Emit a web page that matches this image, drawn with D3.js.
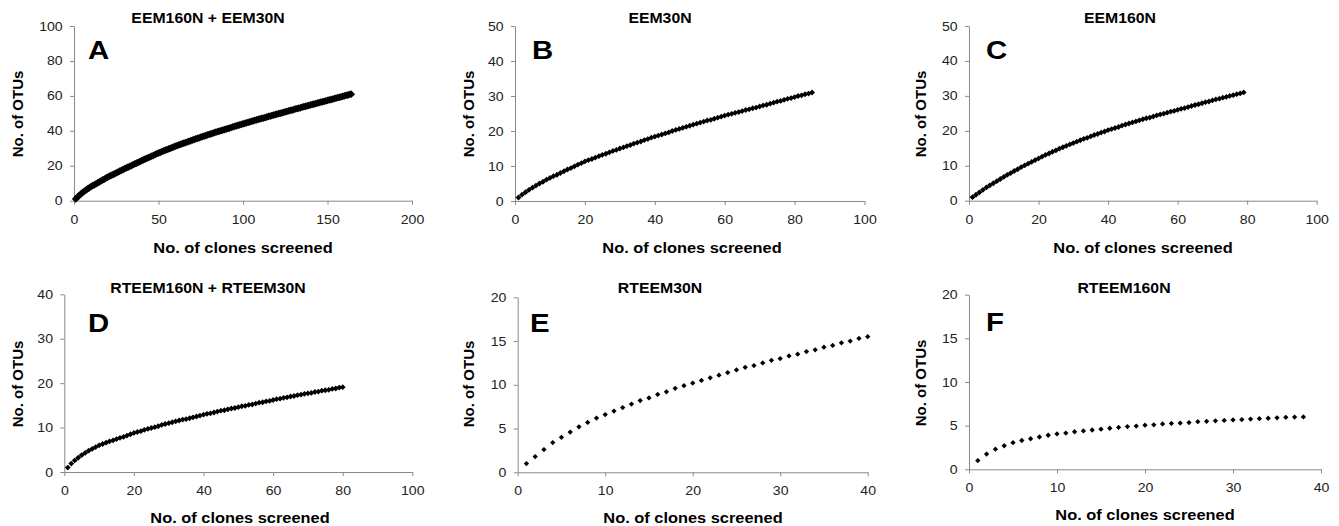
<!DOCTYPE html>
<html>
<head>
<meta charset="utf-8">
<script src="https://cdn.jsdelivr.net/npm/d3@7"></script>
<style>
  body { margin: 0; background: #fff; }
  svg { display: block; font-family: "Liberation Sans", Arial, sans-serif; }
  .domain { stroke: #8a8a8a; }
  .tick line { stroke: #8a8a8a; }
  .tick text { fill: #222; font-size: 12.5px; }
</style>
</head>
<body>
<div id="chart"></div>
<script>
var svgWidth = 1339;
var svgHeight = 526;

// panel titles and letters
var panelTitles = ["EEM160N + EEM30N", "EEM30N", "EEM160N", "RTEEM160N + RTEEM30N", "RTEEM30N", "RTEEM160N"];
var panelLetters = ["A", "B", "C", "D", "E", "F"];

// axis tick values
var xTicks = [
    [0, 50, 100, 150, 200],
    [0, 20, 40, 60, 80, 100],
    [0, 20, 40, 60, 80, 100],
    [0, 20, 40, 60, 80, 100],
    [0, 10, 20, 30, 40],
    [0, 10, 20, 30, 40]
];
var yTicks = [
    [0, 20, 40, 60, 80, 100],
    [0, 10, 20, 30, 40, 50],
    [0, 10, 20, 30, 40, 50],
    [0, 10, 20, 30, 40],
    [0, 5, 10, 15, 20],
    [0, 5, 10, 15, 20]
];

// No. of OTUs for clone 1, 2, 3 ...
var otusA = [
    1.0, 2.0, 2.9, 3.8, 4.6, 5.3, 6.0, 6.7, 7.4, 8.0,
    8.6, 9.1, 9.7, 10.2, 10.8, 11.3, 11.9, 12.4, 13.0, 13.5,
    14.0, 14.5, 14.9, 15.4, 15.9, 16.4, 16.9, 17.3, 17.8, 18.3,
    18.8, 19.2, 19.7, 20.1, 20.6, 21.1, 21.5, 22.0, 22.4, 22.9,
    23.3, 23.8, 24.2, 24.7, 25.1, 25.5, 26.0, 26.4, 26.9, 27.3,
    27.7, 28.1, 28.5, 28.9, 29.3, 29.6, 30.0, 30.4, 30.8, 31.2,
    31.5, 31.9, 32.2, 32.6, 32.9, 33.3, 33.6, 34.0, 34.3, 34.7,
    35.0, 35.4, 35.7, 36.0, 36.4, 36.7, 37.0, 37.3, 37.7, 38.0,
    38.3, 38.6, 38.9, 39.2, 39.5, 39.8, 40.1, 40.4, 40.7, 41.0,
    41.3, 41.6, 41.9, 42.2, 42.5, 42.8, 43.1, 43.4, 43.7, 44.0,
    44.3, 44.6, 44.8, 45.1, 45.4, 45.7, 46.0, 46.2, 46.5, 46.8,
    47.1, 47.3, 47.6, 47.9, 48.2, 48.4, 48.7, 49.0, 49.2, 49.5,
    49.8, 50.0, 50.3, 50.6, 50.9, 51.1, 51.4, 51.7, 51.9, 52.2,
    52.5, 52.7, 53.0, 53.2, 53.5, 53.8, 54.0, 54.3, 54.5, 54.8,
    55.1, 55.3, 55.6, 55.8, 56.1, 56.4, 56.6, 56.9, 57.1, 57.4,
    57.7, 57.9, 58.2, 58.4, 58.7, 59.0, 59.2, 59.5, 59.7, 60.0,
    60.3, 60.5, 60.8, 61.0
];
var otusB = [
    1.0, 1.8, 2.5, 3.2, 3.8, 4.4, 5.0, 5.5, 6.1, 6.6,
    7.1, 7.5, 8.0, 8.5, 9.0, 9.4, 9.9, 10.4, 10.8, 11.3,
    11.7, 12.0, 12.4, 12.8, 13.2, 13.5, 13.9, 14.3, 14.6, 15.0,
    15.3, 15.7, 16.0, 16.4, 16.7, 17.0, 17.4, 17.7, 18.1, 18.4,
    18.7, 19.0, 19.3, 19.6, 20.0, 20.3, 20.6, 20.9, 21.2, 21.5,
    21.8, 22.1, 22.4, 22.7, 23.0, 23.2, 23.5, 23.8, 24.1, 24.4,
    24.7, 24.9, 25.2, 25.4, 25.7, 26.0, 26.2, 26.5, 26.7, 27.0,
    27.3, 27.5, 27.8, 28.1, 28.4, 28.6, 28.9, 29.2, 29.4, 29.7,
    30.0, 30.2, 30.5, 30.7, 31.0
];
var otusC = [
    1.0, 1.7, 2.4, 3.1, 3.8, 4.4, 5.0, 5.6, 6.2, 6.8,
    7.4, 7.9, 8.5, 9.0, 9.6, 10.1, 10.6, 11.1, 11.6, 12.1,
    12.6, 13.1, 13.5, 14.0, 14.4, 14.9, 15.3, 15.7, 16.1, 16.5,
    16.9, 17.3, 17.7, 18.0, 18.4, 18.8, 19.1, 19.5, 19.8, 20.2,
    20.5, 20.8, 21.1, 21.5, 21.8, 22.1, 22.4, 22.7, 23.0, 23.3,
    23.6, 23.8, 24.1, 24.4, 24.7, 24.9, 25.2, 25.5, 25.7, 26.0,
    26.3, 26.5, 26.8, 27.1, 27.4, 27.6, 27.9, 28.2, 28.4, 28.7,
    29.0, 29.2, 29.5, 29.7, 30.0, 30.2, 30.5, 30.7, 31.0
];
var otusD = [
    1.0, 1.9, 2.6, 3.2, 3.8, 4.3, 4.8, 5.2, 5.6, 6.0,
    6.3, 6.6, 6.9, 7.1, 7.4, 7.7, 7.9, 8.2, 8.5, 8.8,
    9.0, 9.2, 9.5, 9.7, 9.9, 10.1, 10.3, 10.6, 10.8, 11.0,
    11.2, 11.4, 11.6, 11.8, 11.9, 12.1, 12.3, 12.5, 12.7, 12.9,
    13.1, 13.2, 13.4, 13.6, 13.8, 13.9, 14.1, 14.3, 14.4, 14.6,
    14.8, 14.9, 15.1, 15.2, 15.4, 15.6, 15.7, 15.9, 16.0, 16.2,
    16.4, 16.5, 16.7, 16.8, 17.0, 17.1, 17.3, 17.4, 17.6, 17.7,
    17.8, 18.0, 18.1, 18.3, 18.4, 18.5, 18.7, 18.8, 19.0, 19.1
];
var otusE = [
    1.0, 1.8, 2.6, 3.4, 4.0, 4.6, 5.2, 5.7, 6.2, 6.6,
    7.0, 7.4, 7.8, 8.2, 8.5, 8.9, 9.2, 9.6, 9.9, 10.2,
    10.5, 10.8, 11.1, 11.4, 11.7, 12.0, 12.2, 12.5, 12.8, 13.0,
    13.3, 13.5, 13.8, 14.0, 14.3, 14.5, 14.8, 15.0, 15.3, 15.5
];
var otusF = [
    1.0, 1.75, 2.3, 2.7, 3.05, 3.3, 3.5, 3.7, 3.9, 4.05,
    4.15, 4.3, 4.4, 4.5, 4.6, 4.7, 4.8, 4.9, 4.95, 5.05,
    5.1, 5.2, 5.25, 5.3, 5.35, 5.45, 5.5, 5.55, 5.6, 5.65,
    5.7, 5.75, 5.8, 5.85, 5.9, 5.95, 5.98, 6.0
];

var seriesList = [otusA, otusB, otusC, otusD, otusE, otusF];

// plot frames in page pixels
var frames = [
    { left: 74, right: 412, top: 26, bottom: 200.7, letterX: 88, letterY: 59, titleX: 208, titleY: 23, xtX: 243, xtY: 253, ytX: 23, ytY: 114, marker: 30 },
    { left: 515, right: 864.5, top: 26, bottom: 201, letterX: 532, letterY: 59, titleX: 660, titleY: 23, xtX: 692, xtY: 253, ytX: 474, ytY: 114, marker: 17 },
    { left: 969, right: 1316.7, top: 26, bottom: 200.7, letterX: 986, letterY: 59, titleX: 1120, titleY: 23, xtX: 1143, xtY: 253, ytX: 926, ytY: 114, marker: 17 },
    { left: 64.3, right: 412.3, top: 294.3, bottom: 472, letterX: 88, letterY: 332, titleX: 208, titleY: 293, xtX: 240, xtY: 523, ytX: 23, ytY: 384, marker: 17 },
    { left: 517.7, right: 867.7, top: 297.3, bottom: 472.3, letterX: 530, letterY: 332, titleX: 660, titleY: 293, xtX: 693, xtY: 523, ytX: 474, ytY: 384, marker: 14 },
    { left: 969, right: 1321, top: 294.7, bottom: 469.3, letterX: 986, letterY: 331, titleX: 1124, titleY: 293, xtX: 1145, xtY: 520, ytX: 926, ytY: 383, marker: 14 }
];

var stretch = 1.13;

var svg = d3.select("#chart")
    .append("svg")
    .attr("width", svgWidth)
    .attr("height", svgHeight);

function stretchedText(x, y, txt, size, anchor) {
    return svg.append("text")
        .attr("transform", `translate(${x}, ${y}) scale(${stretch}, 1)`)
        .attr("text-anchor", anchor)
        .style("font-size", size + "px")
        .style("font-weight", "bold")
        .attr("fill", "#000")
        .text(txt);
}

var marker = d3.symbol().type(d3.symbolSquare);

frames.forEach((f, i) => {
    var xs = xTicks[i];
    var ys = yTicks[i];

    var xScale = d3.scaleLinear()
        .domain([xs[0], xs[xs.length - 1]])
        .range([f.left, f.right]);
    var yScale = d3.scaleLinear()
        .domain([ys[0], ys[ys.length - 1]])
        .range([f.bottom, f.top]);

    var bottomAxis = d3.axisBottom(xScale)
        .tickValues(xs)
        .tickSize(4)
        .tickSizeOuter(0)
        .tickPadding(10);
    var leftAxis = d3.axisLeft(yScale)
        .tickValues(ys)
        .tickSize(4)
        .tickSizeOuter(0)
        .tickPadding(6);

    var gx = svg.append("g")
        .attr("transform", `translate(0, ${f.bottom})`)
        .call(bottomAxis);
    var gy = svg.append("g")
        .attr("transform", `translate(${f.left}, 0)`)
        .call(leftAxis);

    gx.selectAll(".tick text").attr("transform", `scale(${stretch}, 1)`);
    gy.selectAll(".tick text").attr("transform", `scale(${stretch}, 1)`);
    svg.selectAll(".tick text").style("font-family", "'Liberation Sans', Arial, sans-serif");

    // points
    svg.append("g")
        .selectAll("path")
        .data(seriesList[i])
        .enter()
        .append("path")
        .attr("d", marker.size(f.marker)())
        .attr("transform", (d, j) => `translate(${xScale(j + 1)}, ${yScale(d)}) rotate(45)`)
        .attr("fill", "#000");

    // titles
    stretchedText(f.titleX, f.titleY, panelTitles[i], 14, "middle");
    stretchedText(f.letterX, f.letterY, panelLetters[i], 26, "start");
    stretchedText(f.xtX, f.xtY, "No. of clones screened", 14.5, "middle");

    svg.append("text")
        .attr("transform", `translate(${f.ytX}, ${f.ytY}) rotate(-90)`)
        .attr("text-anchor", "middle")
        .style("font-size", "15px")
        .style("font-weight", "bold")
        .text("No. of OTUs");
});
</script>
</body>
</html>
